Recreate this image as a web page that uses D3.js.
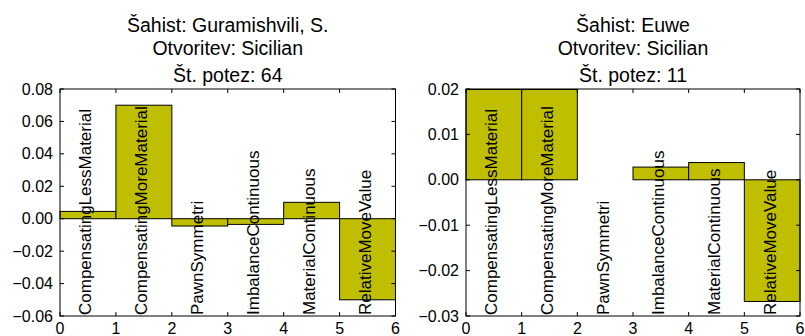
<!DOCTYPE html>
<html>
<head>
<meta charset="utf-8">
<script src="https://cdn.jsdelivr.net/npm/d3@7"></script>
<style>
  body { margin: 0; background: #fff; }
  svg { display: block; font-family: "Liberation Sans", Arial, sans-serif; }
</style>
</head>
<body>
<div id="chart"></div>
<script>
// feature names, same for both players
var features = ["CompensatingLessMaterial", "CompensatingMoreMaterial", "PawnSymmetri",
                "ImbalanceContinuous", "MaterialContinuous", "RelativeMoveValue"];

// left panel
var titleLeft = ["Šahist: Guramishvili, S.", "Otvoritev: Sicilian", "Št. potez: 64"];
var valuesLeft = [0.0045, 0.07, -0.0045, -0.0035, 0.0101, -0.0500];
var yTicksLeft = [0.08, 0.06, 0.04, 0.02, 0.00, -0.02, -0.04, -0.06];

// right panel
var titleRight = ["Šahist: Euwe", "Otvoritev: Sicilian", "Št. potez: 11"];
var valuesRight = [0.0199, 0.0199, 0.0, 0.0028, 0.0038, -0.0268];
var yTicksRight = [0.02, 0.01, 0.00, -0.01, -0.02, -0.03];

var xTicks = [0, 1, 2, 3, 4, 5, 6];

var W = 805, H = 336;
var svg = d3.select("#chart").append("svg")
    .attr("width", W)
    .attr("height", H);

function fmt(v) {
    var s = v.toFixed(2);
    if (v < -1e-9) s = "\u2212" + s.slice(1);
    if (Math.abs(v) < 1e-9) s = "0.00";
    return s;
}

function drawPanel(left, right, title, values, yTicks) {
    var top = 89, bottom = 316;
    var g = svg.append("g");

    var x = d3.scaleLinear().domain([0, 6]).range([left, right]);
    var y = d3.scaleLinear().domain([d3.min(yTicks), d3.max(yTicks)]).range([bottom, top]);

    // title lines
    var baselines = [32, 55, 82];
    g.selectAll("text.title").data(title).enter().append("text")
        .attr("class", "title")
        .attr("x", (left + right) / 2)
        .attr("y", function (d, i) { return baselines[i]; })
        .attr("text-anchor", "middle")
        .style("font-size", "19.5px")
        .text(function (d) { return d; });

    // bars (width 1, aligned on the left edge)
    g.selectAll("rect.bar").data(values).enter().append("rect")
        .attr("class", "bar")
        .attr("x", function (d, i) { return x(i); })
        .attr("width", function (d, i) { return x(i + 1) - x(i); })
        .attr("y", function (d) { return y(Math.max(0, d)); })
        .attr("height", function (d) { return Math.abs(y(d) - y(0)); })
        .style("fill", "#bfbf00")
        .style("stroke", "black")
        .style("stroke-width", 1);

    // feature labels, rotated, over the bars
    g.selectAll("text.lab").data(features).enter().append("text")
        .attr("class", "lab")
        .attr("transform", function (d, i) {
            return "translate(" + x(i + 0.5) + "," + (bottom - 1) + ") rotate(-90)";
        })
        .attr("dy", "0.2em")
        .style("font-size", "17px")
        .text(function (d) { return d; });

    // frame
    g.append("rect")
        .attr("x", left).attr("y", top)
        .attr("width", right - left).attr("height", bottom - top)
        .style("fill", "none")
        .style("stroke", "black")
        .style("stroke-width", 1);

    // ticks inward, mirrored
    var tl = 4;
    xTicks.forEach(function (t) {
        g.append("line").attr("x1", x(t)).attr("x2", x(t))
            .attr("y1", bottom).attr("y2", bottom - tl).style("stroke", "black");
        g.append("line").attr("x1", x(t)).attr("x2", x(t))
            .attr("y1", top).attr("y2", top + tl).style("stroke", "black");
        g.append("text")
            .attr("x", x(t)).attr("y", bottom + 18)
            .attr("text-anchor", "middle")
            .style("font-size", "16px")
            .text(t);
    });
    yTicks.forEach(function (t) {
        g.append("line").attr("x1", left).attr("x2", left + tl)
            .attr("y1", y(t)).attr("y2", y(t)).style("stroke", "black");
        g.append("line").attr("x1", right).attr("x2", right - tl)
            .attr("y1", y(t)).attr("y2", y(t)).style("stroke", "black");
        g.append("text")
            .attr("x", left - 7).attr("y", y(t))
            .attr("dy", "0.35em")
            .attr("text-anchor", "end")
            .style("font-size", "16px")
            .text(fmt(t));
    });
}

drawPanel(60, 395.5, titleLeft, valuesLeft, yTicksLeft);
drawPanel(466, 800, titleRight, valuesRight, yTicksRight);
</script>
</body>
</html>
